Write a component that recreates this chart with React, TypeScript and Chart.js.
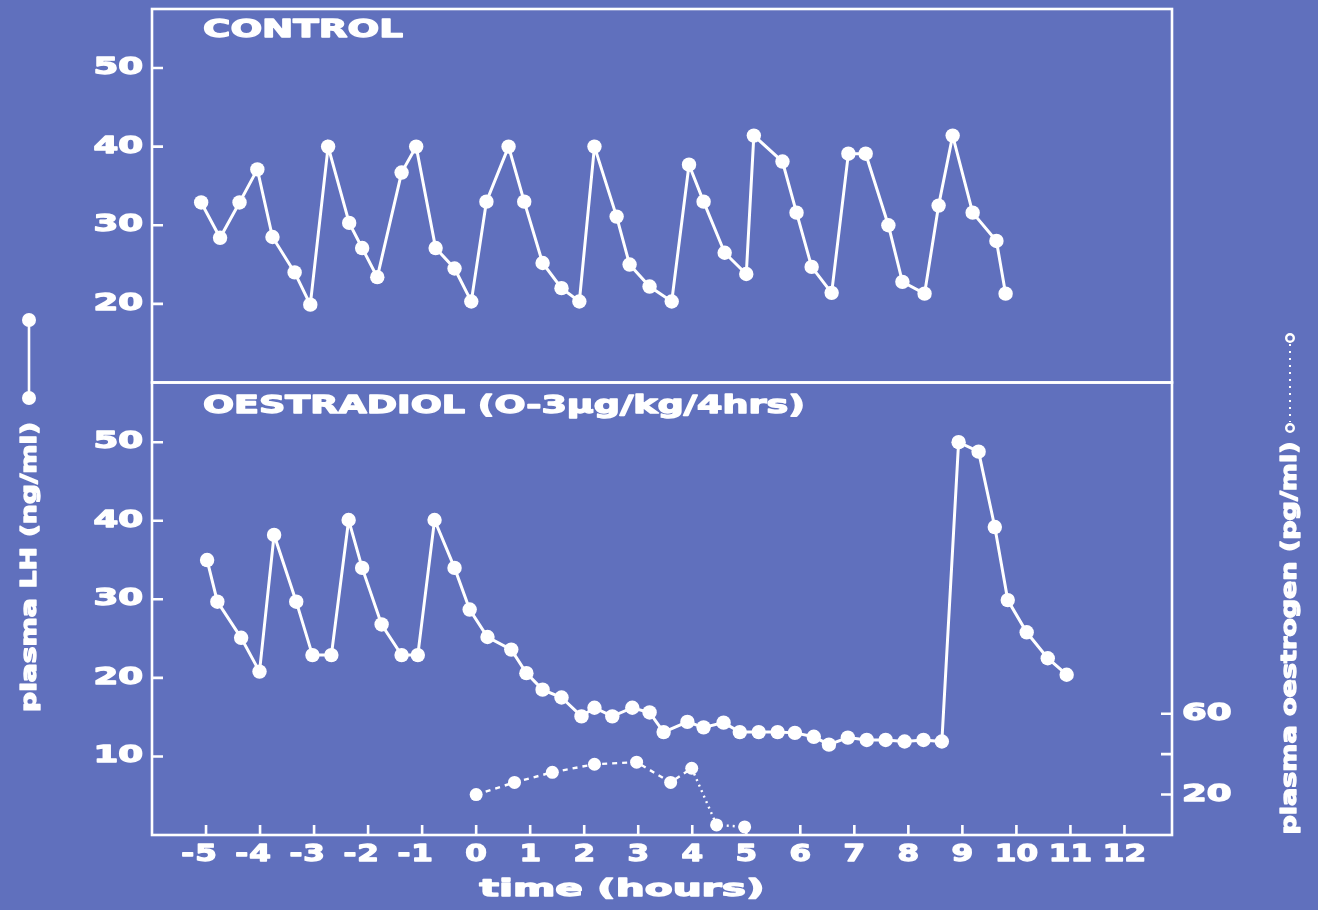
import { useEffect, useRef } from "react";
import { Chart, registerables } from "chart.js";

Chart.register(...registerables);

// CONTROL panel: sampling time (hours) and plasma LH (ng/ml)
const controlHours = [
  -5.09, -4.74, -4.38, -4.05, -3.77, -3.36, -3.07, -2.74, -2.35, -2.11,
  -1.83, -1.38, -1.11, -0.75, -0.4, -0.09, 0.19, 0.6, 0.89, 1.23,
  1.58, 1.91, 2.19, 2.6, 2.84, 3.21, 3.62, 3.94, 4.21, 4.6,
  5.0, 5.14, 5.67, 5.93, 6.21, 6.58, 6.89, 7.21, 7.63, 7.89,
  8.3, 8.56, 8.82, 9.19, 9.63, 9.8,
];
const controlLH = [
  32.9, 28.4, 32.9, 37.1, 28.5, 24.0, 19.9, 40.0, 30.3, 27.1,
  23.4, 36.7, 40.0, 27.1, 24.5, 20.3, 33.0, 40.0, 33.0, 25.2,
  22.0, 20.3, 40.0, 31.1, 25.0, 22.2, 20.3, 37.7, 33.0, 26.5,
  23.8, 41.4, 38.1, 31.6, 24.7, 21.4, 39.1, 39.1, 30.0, 22.8,
  21.3, 32.5, 41.4, 31.6, 28.0, 21.3,
];

// OESTRADIOL panel: plasma LH (ng/ml)
const oestradiolHours = [
  -4.98, -4.79, -4.35, -4.01, -3.74, -3.33, -3.03, -2.68, -2.36, -2.11,
  -1.75, -1.38, -1.08, -0.77, -0.4, -0.12, 0.21, 0.65, 0.93, 1.23,
  1.58, 1.95, 2.19, 2.52, 2.89, 3.21, 3.47, 3.91, 4.21, 4.58,
  4.88, 5.23, 5.58, 5.9, 6.25, 6.53, 6.88, 7.23, 7.58, 7.93,
  8.28, 8.62, 8.93, 9.3, 9.6, 9.84, 10.19, 10.58, 10.93,
];
const oestradiolLH = [
  35.0, 29.7, 25.1, 20.8, 38.2, 29.7, 22.9, 22.9, 40.1, 34.0,
  26.8, 22.9, 22.9, 40.1, 34.0, 28.7, 25.2, 23.6, 20.6, 18.5,
  17.5, 15.1, 16.2, 15.1, 16.2, 15.6, 13.1, 14.4, 13.7, 14.3,
  13.1, 13.1, 13.1, 13.0, 12.5, 11.5, 12.4, 12.1, 12.1, 11.9,
  12.1, 11.9, 50.0, 48.8, 39.2, 29.9, 25.8, 22.5, 20.4,
];

// OESTRADIOL panel: plasma oestrogen (pg/ml), right-hand axis
const oestrogenHours = [0.0, 0.71, 1.41, 2.19, 2.97, 3.6, 3.99, 4.45, 4.97];
const oestrogenPg = [20, 26, 31, 35, 36, 26, 33, 5, 4];

// Axis ticks
const hourTicks = [-5, -4, -3, -2, -1, 0, 1, 2, 3, 4, 5, 6, 7, 8, 9, 10, 11, 12];
const controlLHTicks = [20, 30, 40, 50];
const oestradiolLHTicks = [10, 20, 30, 40, 50];
const oestrogenTicks = [20, 40, 60];
const oestrogenTickLabels = ["20", "", "60"];

const W = 1318;
const H = 910;
const PLOT_LEFT = 152;
const PLOT_RIGHT = 1172;
const TOP_PANEL_TOP = 9;
const PANEL_SPLIT = 382.5;
const PLOT_BOTTOM = 835;

const BG = "#6070bd";
const INK = "#ffffff";
const FONT = "'DejaVu Sans', 'Liberation Sans', sans-serif";

type Label = {
  text: string;
  x: number;
  y: number;
  size: number;
  width?: number;
  stretch?: number;
  align?: "left" | "center" | "right";
  rotate?: boolean;
};

// Heavy, horizontally widened lettering
function drawLabel(ctx: CanvasRenderingContext2D, l: Label) {
  ctx.save();
  ctx.font = `bold ${l.size}px ${FONT}`;
  ctx.fillStyle = INK;
  ctx.strokeStyle = INK;
  ctx.lineJoin = "round";
  ctx.textBaseline = "middle";
  ctx.textAlign = "left";
  const natural = ctx.measureText(l.text).width;
  const sx = l.width ? l.width / natural : l.stretch ?? 1;
  const w = natural * sx;
  const align = l.align ?? "center";
  const offset = align === "center" ? -w / 2 : align === "right" ? -w : 0;
  ctx.translate(l.x, l.y);
  if (l.rotate) ctx.rotate(-Math.PI / 2);
  ctx.translate(offset, 0);
  ctx.scale(sx, 1);
  ctx.lineWidth = 1.3;
  ctx.strokeText(l.text, 0, 0);
  ctx.fillText(l.text, 0, 0);
  ctx.restore();
}

function textWidth(ctx: CanvasRenderingContext2D, text: string, size: number, stretch: number) {
  ctx.save();
  ctx.font = `bold ${size}px ${FONT}`;
  const w = ctx.measureText(text).width * stretch;
  ctx.restore();
  return w;
}

type PanelOptions = {
  title: string;
  titleWidth: number;
  titleY: number;
  leftTicks: number[];
  showHours: boolean;
  showOestrogen: boolean;
};

function panelPlugin(p: PanelOptions) {
  return {
    id: "panelFrame",
    beforeDatasetsDraw(chart: any) {
      const { ctx, chartArea: a, scales } = chart;
      ctx.save();
      ctx.strokeStyle = INK;
      ctx.lineWidth = 2.6;
      ctx.strokeRect(a.left, a.top, a.right - a.left, a.bottom - a.top);
      ctx.beginPath();
      for (const v of p.leftTicks) {
        const y = scales.y.getPixelForValue(v);
        ctx.moveTo(a.left, y);
        ctx.lineTo(a.left + 11, y);
      }
      if (p.showHours) {
        for (const t of hourTicks) {
          const x = scales.x.getPixelForValue(t);
          ctx.moveTo(x, a.bottom);
          ctx.lineTo(x, a.bottom - 10);
        }
      }
      if (p.showOestrogen) {
        for (const v of oestrogenTicks) {
          const y = scales.y2.getPixelForValue(v);
          ctx.moveTo(a.right, y);
          ctx.lineTo(a.right - 11, y);
        }
      }
      ctx.stroke();
      ctx.restore();
    },
    afterDraw(chart: any) {
      const { ctx, chartArea: a, scales } = chart;
      drawLabel(ctx, { text: p.title, x: a.left + 51, y: p.titleY, size: 24, width: p.titleWidth, align: "left" });

      for (const v of p.leftTicks) {
        drawLabel(ctx, {
          text: String(v),
          x: a.left - 9,
          y: scales.y.getPixelForValue(v),
          size: 23,
          stretch: 1.55,
          align: "right",
        });
      }

      if (p.showHours) {
        const size = 23;
        const stretch = 1.35;
        for (const t of hourTicks) {
          const x = scales.x.getPixelForValue(t);
          const digits = String(Math.abs(t));
          drawLabel(ctx, { text: digits, x, y: 855, size, stretch });
          if (t < 0) {
            const dw = textWidth(ctx, digits, size, stretch);
            drawLabel(ctx, { text: "-", x: x - dw / 2 - 1, y: 855, size, stretch, align: "right" });
          }
        }
        drawLabel(ctx, { text: "time (hours)", x: 622, y: 890, size: 23, width: 285 });
      }

      if (p.showOestrogen) {
        oestrogenTicks.forEach((v, i) => {
          const txt = oestrogenTickLabels[i];
          if (!txt) return;
          drawLabel(ctx, {
            text: txt,
            x: a.right + 10,
            y: scales.y2.getPixelForValue(v),
            size: 23,
            stretch: 1.55,
            align: "left",
          });
        });

        // LH axis caption with solid-line key
        drawLabel(ctx, { text: "plasma LH (ng/ml)", x: 31, y: 567, size: 21, width: 290, rotate: true });
        ctx.save();
        ctx.strokeStyle = INK;
        ctx.fillStyle = INK;
        ctx.lineWidth = 2.6;
        ctx.beginPath();
        ctx.moveTo(29, 320);
        ctx.lineTo(29, 398);
        ctx.stroke();
        for (const cy of [320, 398]) {
          ctx.beginPath();
          ctx.arc(29, cy, 7, 0, Math.PI * 2);
          ctx.fill();
        }
        ctx.restore();

        // oestrogen axis caption with dotted-line key
        drawLabel(ctx, { text: "plasma oestrogen (pg/ml)", x: 1291, y: 638, size: 21, width: 393, rotate: true });
        ctx.save();
        ctx.strokeStyle = INK;
        ctx.lineWidth = 2;
        ctx.setLineDash([2, 5]);
        ctx.beginPath();
        ctx.moveTo(1290, 344);
        ctx.lineTo(1290, 422);
        ctx.stroke();
        ctx.setLineDash([]);
        ctx.lineWidth = 2.4;
        for (const cy of [338, 428]) {
          ctx.beginPath();
          ctx.arc(1290, cy, 3.8, 0, Math.PI * 2);
          ctx.stroke();
        }
        ctx.restore();
      }
    },
  };
}

const lhStyle = {
  showLine: true,
  borderColor: INK,
  borderWidth: 3,
  pointRadius: 7.2,
  pointHoverRadius: 7.2,
  pointBackgroundColor: INK,
  pointBorderColor: INK,
  pointBorderWidth: 0,
};

const fixedWidth = (w: number) => (s: any) => {
  s.width = w;
};

const hiddenAxisParts = {
  ticks: { display: false },
  grid: { display: false },
  border: { display: false },
};

export default function App() {
  const topRef = useRef<HTMLCanvasElement | null>(null);
  const bottomRef = useRef<HTMLCanvasElement | null>(null);

  useEffect(() => {
    if (!topRef.current || !bottomRef.current) return;

    const control = new Chart(topRef.current, {
      type: "scatter",
      data: {
        datasets: [
          {
            label: "CONTROL",
            data: controlHours.map((t, i) => ({ x: t, y: controlLH[i] })),
            ...lhStyle,
          },
        ],
      },
      options: {
        responsive: false,
        animation: false,
        events: [],
        layout: {
          padding: {
            left: 0,
            top: TOP_PANEL_TOP,
            right: W - PLOT_RIGHT,
            bottom: H - PANEL_SPLIT,
          },
        },
        plugins: { legend: { display: false }, tooltip: { enabled: false } },
        scales: {
          x: { type: "linear", min: -6, max: 12.88, display: false },
          y: {
            type: "linear",
            min: 10,
            max: 57.5,
            ...hiddenAxisParts,
            afterFit: fixedWidth(PLOT_LEFT),
          },
        },
      },
      plugins: [
        panelPlugin({
          title: "CONTROL",
          titleWidth: 200,
          titleY: 31,
          leftTicks: controlLHTicks,
          showHours: false,
          showOestrogen: false,
        }),
      ],
    } as any);

    const oestradiol = new Chart(bottomRef.current, {
      type: "scatter",
      data: {
        datasets: [
          {
            label: "plasma LH",
            data: oestradiolHours.map((t, i) => ({ x: t, y: oestradiolLH[i] })),
            yAxisID: "y",
            ...lhStyle,
          },
          {
            label: "plasma oestrogen",
            data: oestrogenHours.map((t, i) => ({ x: t, y: oestrogenPg[i] })),
            yAxisID: "y2",
            ...lhStyle,
            borderWidth: 2.4,
            pointRadius: 6.5,
            pointHoverRadius: 6.5,
            borderDash: [5, 5],
            segment: {
              borderDash: (c: any) => (c.p1DataIndex >= 7 ? [2, 4] : [5, 5]),
            },
          },
        ],
      },
      options: {
        responsive: false,
        animation: false,
        events: [],
        layout: { padding: { left: 0, top: PANEL_SPLIT, right: 0, bottom: 0 } },
        plugins: { legend: { display: false }, tooltip: { enabled: false } },
        scales: {
          x: {
            type: "linear",
            min: -6,
            max: 12.88,
            ...hiddenAxisParts,
            afterFit: (s: any) => {
              s.height = H - PLOT_BOTTOM;
            },
          },
          y: {
            type: "linear",
            position: "left",
            min: 0,
            max: 57.6,
            ...hiddenAxisParts,
            afterFit: fixedWidth(PLOT_LEFT),
          },
          y2: {
            type: "linear",
            position: "right",
            min: 0,
            max: 223.8,
            ...hiddenAxisParts,
            afterFit: fixedWidth(W - PLOT_RIGHT),
          },
        },
      },
      plugins: [
        panelPlugin({
          title: "OESTRADIOL (O-3µg/kg/4hrs)",
          titleWidth: 602,
          titleY: 407,
          leftTicks: oestradiolLHTicks,
          showHours: true,
          showOestrogen: true,
        }),
      ],
    } as any);

    return () => {
      control.destroy();
      oestradiol.destroy();
    };
  }, []);

  return (
    <div style={{ position: "fixed", left: 0, top: 0, width: "100vw", height: "100vh", background: BG, overflow: "hidden" }}>
      <canvas ref={topRef} width={W} height={H} style={{ position: "absolute", left: 0, top: 0 }} />
      <canvas ref={bottomRef} width={W} height={H} style={{ position: "absolute", left: 0, top: 0 }} />
    </div>
  );
}
